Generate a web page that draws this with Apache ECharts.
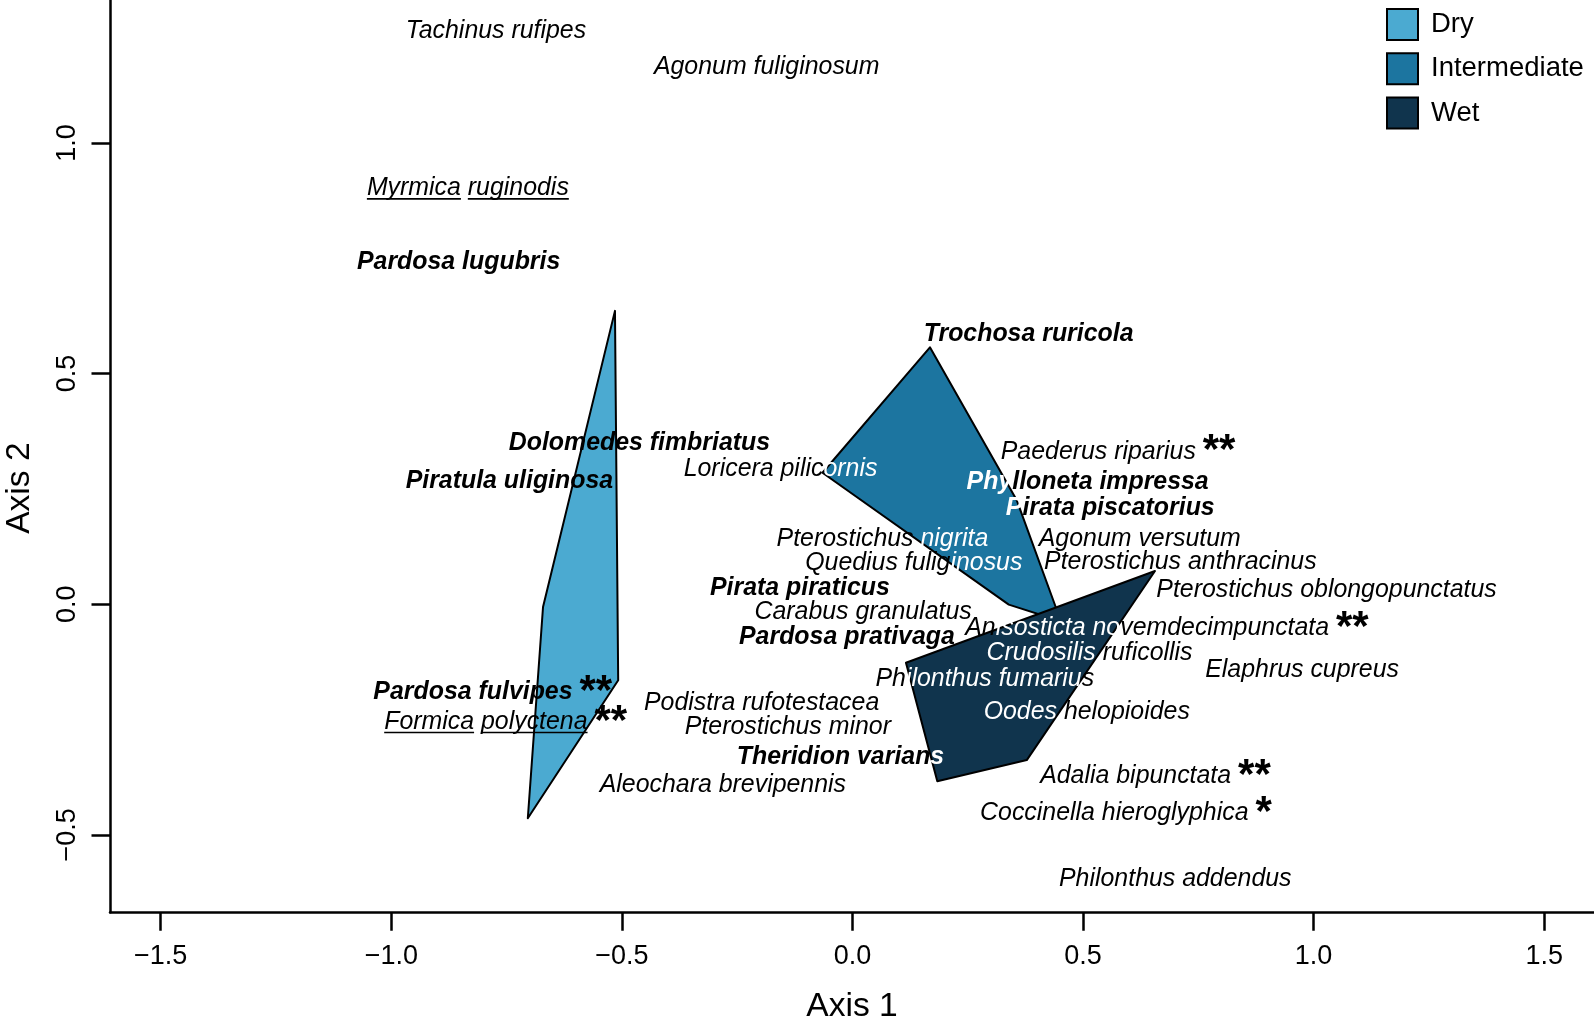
<!DOCTYPE html>
<html><head><meta charset="utf-8">
<script src="https://cdn.jsdelivr.net/npm/echarts@6/dist/echarts.min.js"></script>
<style>html,body{margin:0;padding:0;background:#fff}#c{width:1594px;height:1028px}</style>
</head><body><div id="c"></div>
<script>
const FONT = '"Liberation Sans", Arial, Helvetica, sans-serif';

// ---- data ----
const speciesNames = [
  'Tachinus rufipes','Agonum fuliginosum','Myrmica ruginodis','Pardosa lugubris','Trochosa ruricola',
  'Dolomedes fimbriatus','Loricera pilicornis','Piratula uliginosa','Paederus riparius','Phylloneta impressa',
  'Pirata piscatorius','Pterostichus nigrita','Agonum versutum','Quedius fuliginosus','Pterostichus anthracinus',
  'Pirata piraticus','Pterostichus oblongopunctatus','Carabus granulatus','Anisosticta novemdecimpunctata','Pardosa prativaga',
  'Crudosilis ruficollis','Elaphrus cupreus','Philonthus fumarius','Pardosa fulvipes','Podistra rufotestacea',
  'Oodes helopioides','Formica polyctena','Pterostichus minor','Theridion varians','Adalia bipunctata',
  'Aleochara brevipennis','Coccinella hieroglyphica','Philonthus addendus'
];
const speciesX = [
  -0.773,-0.186,-0.834,-0.854,0.382,
  -0.462,-0.156,-0.744,0.576,0.510,
  0.559,0.065,0.623,0.133,0.711,
  -0.114,1.028,0.023,0.682,-0.012,
  0.514,0.975,0.287,-0.780,-0.197,
  0.508,-0.752,-0.140,-0.026,0.657,
  -0.281,0.593,0.700
];
const speciesY = [
  1.246,1.168,0.906,0.745,0.589,
  0.353,0.298,0.271,0.335,0.269,
  0.212,0.146,0.146,0.093,0.095,
  0.040,0.034,-0.013,-0.048,-0.066,
  -0.101,-0.138,-0.158,-0.187,-0.211,
  -0.229,-0.251,-0.262,-0.328,-0.368,
  -0.387,-0.449,-0.592
];
const speciesStars = [
  '','','','','',
  '','','','**','',
  '','','','','',
  '','','','**','',
  '','','','**','',
  '','**','','','**',
  '','*',''
];
const spiders = ['Pardosa lugubris','Trochosa ruricola','Dolomedes fimbriatus','Piratula uliginosa','Phylloneta impressa',
  'Pirata piscatorius','Pirata piraticus','Pardosa prativaga','Pardosa fulvipes','Theridion varians'];
const ants = ['Myrmica ruginodis','Formica polyctena'];
// character ranges printed in white where the label lies over a dark hull
const whiteRanges = {
  'Loricera pilicornis': [[14,19]],
  'Phylloneta impressa': [[0,3]],
  'Pirata piscatorius': [[0,1]],
  'Pterostichus nigrita': [[13,20]],
  'Quedius fuliginosus': [[13,19]],
  'Anisosticta novemdecimpunctata': [[2,14]],
  'Crudosilis ruficollis': [[0,10]],
  'Philonthus fumarius': [[2,18]],
  'Oodes helopioides': [[0,5]],
  'Theridion varians': [[16,17]]
};

const habitats = ['Dry','Intermediate','Wet'];
const habitatColors = ['#4BAAD1','#1C75A0','#10344D'];
const dryHull = [[-0.515,0.636],[-0.508,-0.165],[-0.704,-0.464],[-0.671,-0.006]];
const intermediateHull = [[0.168,0.557],[0.356,0.226],[0.452,-0.037],[0.339,-0.001],[-0.065,0.285]];
const wetHull = [[0.116,-0.127],[0.656,0.072],[0.378,-0.338],[0.184,-0.384]];

const xTicks = [-1.5,-1.0,-0.5,0.0,0.5,1.0,1.5];
const yTicks = [-0.5,0.0,0.5,1.0];

// ---- styling ----
const LABEL_SIZE = 24.9, STAR_SIZE = 42, LABEL_DY = 2;
const mctx = document.createElement('canvas').getContext('2d');
function measure(str, font) { mctx.font = font; return mctx.measureText(str).width; }
function fontStr(bold, size, italic) {
  return (italic ? 'italic ' : 'normal ') + (bold ? 'bold ' : 'normal ') + size + 'px ' + FONT;
}
function fmt(v) { return (v < 0 ? '\u2212' : '') + Math.abs(v).toFixed(1); }

function hullSeries(idx, pts) {
  return {
    type: 'custom', name: habitats[idx], coordinateSystem: 'cartesian2d', data: pts, z: 2, silent: true,
    itemStyle: { color: habitatColors[idx], borderColor: '#000', borderWidth: 2 },
    renderItem: function (params, api) {
      if (params.dataIndex !== 0) return;
      return {
        type: 'polygon',
        shape: { points: pts.map(p => api.coord(p)) },
        style: { fill: habitatColors[idx], stroke: '#000', lineWidth: 2, lineJoin: 'round' }
      };
    }
  };
}

function labelItem(params, api) {
  const i = params.dataIndex;
  const name = speciesNames[i];
  const stars = speciesStars[i];
  const bold = spiders.indexOf(name) >= 0;
  const under = ants.indexOf(name) >= 0;
  const p = api.coord([api.value(0), api.value(1)]);
  const px = p[0], py = p[1] + LABEL_DY;
  const ranges = whiteRanges[name] || [];
  const segs = [];
  let pos = 0;
  ranges.forEach(r => {
    if (r[0] > pos) segs.push([name.slice(pos, r[0]), 'k']);
    segs.push([name.slice(r[0], r[1]), 'w']);
    pos = r[1];
  });
  if (pos < name.length) segs.push([name.slice(pos), 'k']);
  let text = segs.map(s => '{' + s[1] + '|' + s[0] + '}').join('');
  if (stars) text += '{k| }{s|' + stars + '}';
  const base = { fontFamily: FONT, fontSize: LABEL_SIZE, fontStyle: 'italic', fontWeight: bold ? 'bold' : 'normal' };
  const rich = {
    k: Object.assign({}, base, { fill: '#000' }),
    w: Object.assign({}, base, { fill: '#fff' }),
    s: { fontFamily: FONT, fontSize: STAR_SIZE, fontWeight: 'bold', fill: '#000' }
  };
  const children = [{
    type: 'text',
    style: { x: px, y: py, text: text, rich: rich, align: 'center', verticalAlign: 'middle',
      fontFamily: FONT, fontSize: LABEL_SIZE, fontStyle: 'italic', fontWeight: bold ? 'bold' : 'normal', fill: '#000' }
  }];
  if (under) {
    const f = fontStr(bold, LABEL_SIZE, true);
    let total = measure(name, f);
    if (stars) total = measure(name + ' ', f) + measure(stars, fontStr(true, STAR_SIZE, false));
    const left = px - total / 2;
    const uy = py + 10.5;
    let idx = 0;
    name.split(' ').forEach(word => {
      const start = name.indexOf(word, idx);
      const x1 = left + measure(name.slice(0, start), f);
      const x2 = x1 + measure(word, f);
      children.push({ type: 'line', shape: { x1: x1, y1: uy, x2: x2, y2: uy }, style: { stroke: '#000', lineWidth: 1.6 } });
      idx = start + word.length;
    });
  }
  return { type: 'group', children: children };
}

const chart = echarts.init(document.getElementById('c'), null, { renderer: 'canvas' });
chart.setOption({
  animation: false,
  backgroundColor: '#fff',
  grid: { left: 110, right: 0, top: 0, bottom: 115.7, containLabel: false, outerBoundsMode: 'none' },
  legend: {
    data: habitats, orient: 'vertical', left: 1386, top: 8, padding: 0,
    itemWidth: 31, itemHeight: 31, itemGap: 11.3, icon: 'rect', selectedMode: false,
    itemStyle: { borderColor: '#000', borderWidth: 2 },
    textStyle: { fontFamily: FONT, fontSize: 27.5, color: '#000', padding: [0, 0, 0, 8] }
  },
  xAxis: {
    type: 'value', min: -1.610, max: 1.608,
    name: 'Axis 1', nameLocation: 'middle', nameGap: 77,
    nameTextStyle: { fontFamily: FONT, fontSize: 33.6, color: '#000' },
    axisLine: { show: true, onZero: false, lineStyle: { color: '#000', width: 2.5 } },
    axisTick: { show: true, length: 18.5, lineStyle: { color: '#000', width: 2.5 }, customValues: xTicks },
    axisLabel: { show: true, customValues: xTicks, formatter: fmt, fontFamily: FONT, fontSize: 27, color: '#000', margin: 31 },
    splitLine: { show: false }
  },
  yAxis: {
    type: 'value', min: -0.668, max: 1.310,
    name: 'Axis 2', nameLocation: 'middle', nameGap: 73,
    nameTextStyle: { fontFamily: FONT, fontSize: 33.6, color: '#000', padding: [0, 64, 0, 0] },
    axisLine: { show: true, onZero: false, lineStyle: { color: '#000', width: 2.5 } },
    axisTick: { show: true, length: 18.5, lineStyle: { color: '#000', width: 2.5 }, customValues: yTicks },
    axisLabel: { show: true, customValues: yTicks, formatter: fmt, rotate: 90, fontFamily: FONT, fontSize: 27, color: '#000', margin: 29 },
    splitLine: { show: false }
  },
  series: [
    hullSeries(0, dryHull),
    hullSeries(1, intermediateHull),
    hullSeries(2, wetHull),
    {
      type: 'custom', coordinateSystem: 'cartesian2d', z: 5, silent: true,
      data: speciesX.map((x, i) => [x, speciesY[i]]),
      renderItem: labelItem
    }
  ]
});
</script></body></html>
